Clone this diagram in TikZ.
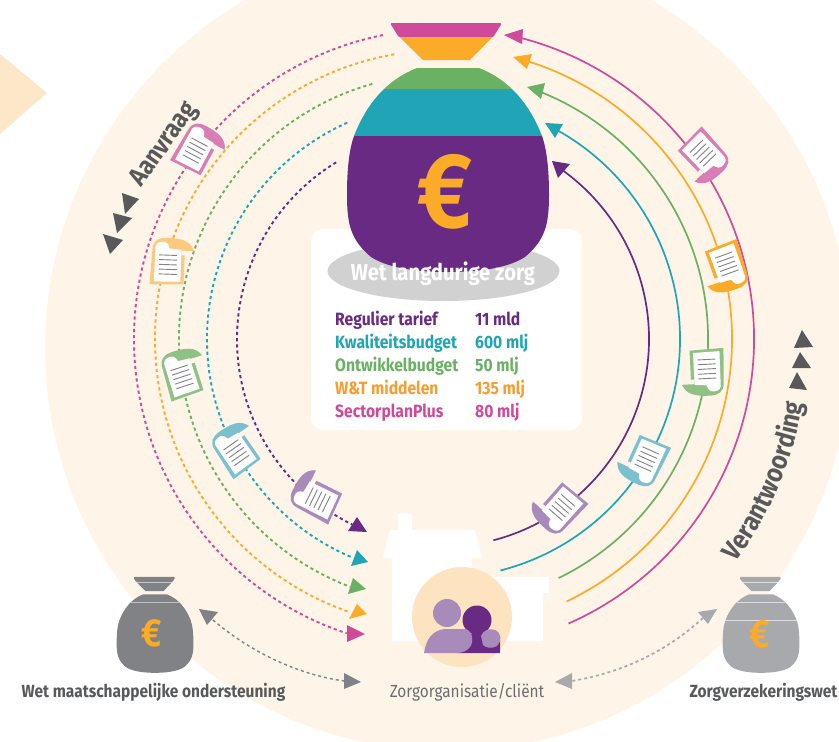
\documentclass[tikz,border=0pt]{standalone}
\usepackage{fontspec}
\usetikzlibrary{decorations.text}
\setmainfont{Fira Sans}[FakeStretch=0.88]
\definecolor{cream}{HTML}{FEF5E8}
\definecolor{mag}{HTML}{CF4A9A}
\definecolor{ora}{HTML}{FBAB27}
\definecolor{gre}{HTML}{6AB163}
\definecolor{tea}{HTML}{1FA5B5}
\definecolor{pur}{HTML}{682A82}
\definecolor{lmag}{HTML}{D87DB5}
\definecolor{lora}{HTML}{FDC97F}
\definecolor{lgre}{HTML}{8FC185}
\definecolor{ltea}{HTML}{7CC0CF}
\definecolor{lpur}{HTML}{A98BBB}
\definecolor{dgray}{HTML}{808285}
\definecolor{mgray}{HTML}{A7A9AC}
\definecolor{tgray}{HTML}{58595B}
\definecolor{peach}{HTML}{FDE3C0}
\definecolor{torange}{HTML}{F99D31}
\tikzset{
  dashline/.style={line width=1.9pt,dash pattern=on 3.2pt off 3pt},
  solidline/.style={line width=1.7pt},
  rowtext/.style={anchor=base west,inner sep=0pt,font=\fontsize{17.8}{20}\selectfont\bfseries},
  captext/.style={anchor=base,inner sep=0pt,text=tgray,font=\fontsize{17.6}{20}\selectfont\bfseries},
}
\newcommand{\bagpath}{(417,68) -- (479,68) .. controls (510,80) and (530,105) .. (542,136) .. controls (547,150) and (549,170) .. (549,195) .. controls (549,225) and (545,240) .. (525,257) .. controls (505,270) and (470,272) .. (448,272) .. controls (426,272) and (391,270) .. (371,257) .. controls (351,240) and (347,225) .. (347,195) .. controls (347,170) and (349,150) .. (354,136) .. controls (366,105) and (386,80) .. (417,68) -- cycle}
% colours: neck top, neck bottom, shoulder, middle, belly
\newcommand{\moneybag}[5]{%
  \fill[#1,rounded corners=1.5pt] (390,23) -- (502,23) -- (493,37.5) -- (399,37.5) -- cycle;
  \fill[#2] (399.5,37) -- (492.5,37) -- (470,60) -- (423,60) -- cycle;
  \begin{scope}
    \clip \bagpath;
    \fill[#5] (340,136) rectangle (560,280);
    \fill[#4] (340,89) rectangle (560,136);
    \fill[#3] (340,60) rectangle (560,89);
  \end{scope}
}
% x, y, rotation, colour
\newcommand{\docpic}[4]{%
  \begin{scope}[shift={(#1,#2)},rotate=#3]
    \fill[#4] (-12.3,-22) -- (21.7,-23) -- (20,12) .. controls (20,21) and (14,24) .. (6,24) .. controls (-8,24) and (-18,22) .. (-21.7,11.7) -- (-12.5,11.7) -- cycle;
    \fill[cream] (-13.2,7) -- (-9,7) -- (-9,11.7) -- (-13.2,11.7) -- cycle;
    \fill[white] (-9,-19.5) -- (17.5,-20) -- (17,15) .. controls (16,19) and (13,20) .. (10,20) .. controls (6,20) and (4,18) .. (3,13.5) -- (-9,12.5) -- cycle;
    \foreach \ly in {-12.3,-7.5,-2.8,2,6.7}
      \draw[dgray,line width=.9pt] (-5,\ly) -- (13,\ly);
  \end{scope}
}
% style, name, centre x, radius, start angle, end angle (angles clockwise on the page)
\newcommand{\flowarc}[6]{%
  \coordinate (#2) at ({#3+#4*cos(#5)},{339+#4*sin(#5)});
  \draw[#1] (#2) arc[start angle={-(#5)},end angle={-(#6)},radius=#4 pt];
}
\begin{document}
\begin{tikzpicture}[x=1pt,y=-1pt]
\useasboundingbox (0,0) rectangle (839,742);
\clip (0,0) rectangle (839,742);

% background
\fill[cream] (448,348) circle [radius=403pt];
\fill[peach!85!white] (0,54) -- (47,93) -- (0,134) -- cycle;

% left dashed flows
\flowarc{mag,dashline}{magS}{444}{310}{258.65}{108.3}
\flowarc{ora,dashline}{oraS}{444}{289}{260.1}{109.2}
\flowarc{gre,dashline}{greS}{444}{265}{254.3}{110.8}
\flowarc{tea,dashline}{teaS}{444}{237}{245.9}{112.6}
\flowarc{pur,dashline}{purS}{444}{207}{238.6}{116.4}

% right solid flows
\flowarc{mag,solidline}{magA}{443}{311}{66.2}{-76.3}
\flowarc{ora,solidline}{oraA}{441}{291}{64.4}{-73.4}
\flowarc{gre,solidline}{greA}{442}{266}{64}{-68.8}
\flowarc{tea,solidline}{teaA}{441}{239}{75.6}{-61.2}
\flowarc{pur,solidline}{purA}{441}{208}{75.4}{-54.2}

% arrow heads, right
\fill[mag] (504,35) -- (523,29) -- (522,44) -- cycle;
\fill[ora] (513,57) -- (532,54) -- (527,69) -- cycle;
\fill[gre] (527,87) -- (545,83) -- (541,99) -- cycle;
\fill[tea] (545,123) -- (563,124) -- (555,138) -- cycle;
\fill[pur] (552,161) -- (570,164) -- (558,178) -- cycle;
% arrow heads, left
\fill[mag] (347,625) -- (365,634) -- (347,642) -- cycle;
\fill[ora] (357,604) -- (367,614) -- (349,619) -- cycle;
\fill[gre] (353,578) -- (366,589) -- (348,594) -- cycle;
\fill[tea] (357,550) -- (368,562) -- (351,566) -- cycle;
\fill[pur] (357,517) -- (367,532) -- (348,531) -- cycle;

% documents, right
\docpic{702}{158}{44}{lmag}
\docpic{724}{268}{20}{ora}
\docpic{703}{372}{3}{lgre}
\docpic{642}{460}{-24}{ltea}
\docpic{557}{507}{-41}{lpur}
% documents, left
\docpic{200}{150}{152}{lmag}
\docpic{172}{262}{178}{lora}
\docpic{185}{373}{198}{lgre}
\docpic{238}{448}{215}{ltea}
\docpic{317}{495}{244}{lpur}

% panel
\fill[white,rounded corners=12pt] (311,229) rectangle (582,430);
\fill[black!18] (443.5,271) ellipse [x radius=116pt,y radius=30pt];

% main bag
\moneybag{mag}{ora}{gre}{tea}{pur}
\node[text=ora,inner sep=0pt,font=\fontsize{106}{110}\selectfont\bfseries] (euro) at (445,192) {€};
\node[text=white,inner sep=0pt,font=\fontsize{23}{25}\selectfont\bfseries] (wlz) at (443,274) {Wet langdurige zorg};

% table
\node[rowtext,text=pur] (r1) at (335,325) {Regulier tarief};
\node[rowtext,text=tea] (r2) at (335,348) {Kwaliteitsbudget};
\node[rowtext,text=gre] (r3) at (335,371) {Ontwikkelbudget};
\node[rowtext,text=torange] (r4) at (335,394) {W\&T middelen};
\node[rowtext,text=mag] (r5) at (335,417) {SectorplanPlus};
\node[rowtext,text=pur] (v1) at (475,325) {11 mld};
\node[rowtext,text=tea] (v2) at (475,348) {600 mlj};
\node[rowtext,text=gre] (v3) at (475,371) {50 mlj};
\node[rowtext,text=torange] (v4) at (475,394) {135 mlj};
\node[rowtext,text=mag] (v5) at (475,417) {80 mlj};

% house
\fill[white] (398,513) rectangle (412,532);
\fill[white] (390,530) -- (475,530) -- (482,558) -- (383,558) -- cycle;
\fill[white] (392,557) rectangle (472,641);
\fill[white] (470,577) rectangle (549,593);
\fill[white] (470,592) rectangle (543,641);
\fill[peach] (462,617) circle [radius=50pt];
% people
\fill[lpur] (447,613) circle [radius=14pt];
\fill[pur] (477,620) circle [radius=14.5pt];
\fill[pur] (457,653) -- (457,648) .. controls (462,640) and (470,633) .. (480,630) .. controls (490,628) and (500,632) .. (500,640) -- (500,653) -- cycle;
\fill[lpur] (424,653) .. controls (426,640) and (432,630) .. (445,629) -- (466,629) .. controls (473,632) and (474,642) .. (470,647) .. controls (467,651) and (462,653) .. (457,653) -- cycle;
\fill[lpur] (481,636) .. controls (483,630) and (490,628) .. (495,630) .. controls (502,633) and (502,641) .. (497,646) .. controls (492,649) and (486,648) .. (483,645) -- cycle;

% side bags
\begin{scope}[shift={(-15.2,568.1)},xscale=.38,yscale=.385]
  \moneybag{dgray}{dgray}{dgray}{dgray}{dgray}
  \draw[white,opacity=.5,line width=.7pt] (400,37.5) -- (492,37.5) (385,89) -- (511,89);
\end{scope}
\begin{scope}[shift={(590.8,568.1)},xscale=.38,yscale=.385]
  \moneybag{mgray}{mgray}{mgray}{mgray}{mgray}
  \draw[white,opacity=.6,line width=.7pt] (400,37.5) -- (492,37.5) (385,89) -- (511,89) (354,136) -- (542,136);
\end{scope}
\node[text=ora,inner sep=0pt,font=\fontsize{39}{42}\selectfont\bfseries] (euroL) at (152,633) {€};
\node[text=ora,inner sep=0pt,font=\fontsize{39}{42}\selectfont\bfseries] (euroR) at (760,634) {€};

% gray two-way arrows
\coordinate (gLa) at (213,620); \coordinate (gLb) at (344,681);
\coordinate (gRa) at (703,618); \coordinate (gRb) at (572,681);
\draw[dgray,line width=1.4pt,dash pattern=on 3pt off 3pt] (gLa) .. controls (248,650) and (295,674) .. (gLb);
\draw[mgray,line width=1.7pt,dash pattern=on 3pt off 3pt] (gRa) .. controls (668,650) and (625,672) .. (gRb);
\fill[dgray] (199,609) -- (218,612) -- (207,625) -- cycle;
\fill[dgray] (361,682) -- (344,673) -- (344,689) -- cycle;
\fill[mgray] (717,609) -- (698,612) -- (708,624) -- cycle;
\fill[mgray] (555,682) -- (572,673) -- (572,689) -- cycle;

% captions
\node[captext] (wmo) at (153.5,697.5) {Wet maatschappelijke ondersteuning};
\node[captext] (zvw) at (763.5,697.5) {Zorgverzekeringswet};
\node[anchor=base,inner sep=0pt,text=dgray!85!black,font=\fontsize{17.5}{20}\selectfont] (zorg) at (467,697.5) {Zorgorganisatie/cliënt};

% process labels
\node[anchor=base,inner sep=0pt,rotate=54.8,text=tgray,font=\fontsize{26}{28}\selectfont\bfseries] (aanv) at (169.5,148.5) {Aanvraag};
\coordinate (vS) at (731,568); \coordinate (vE) at (804,396.5);
\path[decorate,decoration={text along path,text align=center,text={|\fontsize{27}{29}\selectfont\bfseries\color{tgray}|Verantwoording}}]
  (vS) .. controls (770,518) and (795,459) .. (vE);

% process triangles
\fill[tgray] (122,193) -- (139,199) -- (125,214) -- cycle;
\fill[tgray] (113,213) -- (132,218) -- (117,233) -- cycle;
\fill[tgray] (103,234) -- (123,240) -- (110,254) -- cycle;
\fill[tgray] (802,330) -- (813,347) -- (794,348) -- cycle;
\fill[tgray] (800,352) -- (811,368) -- (792,368) -- cycle;
\fill[tgray] (797,372) -- (807,390) -- (789,388) -- cycle;
\end{tikzpicture}
\end{document}
